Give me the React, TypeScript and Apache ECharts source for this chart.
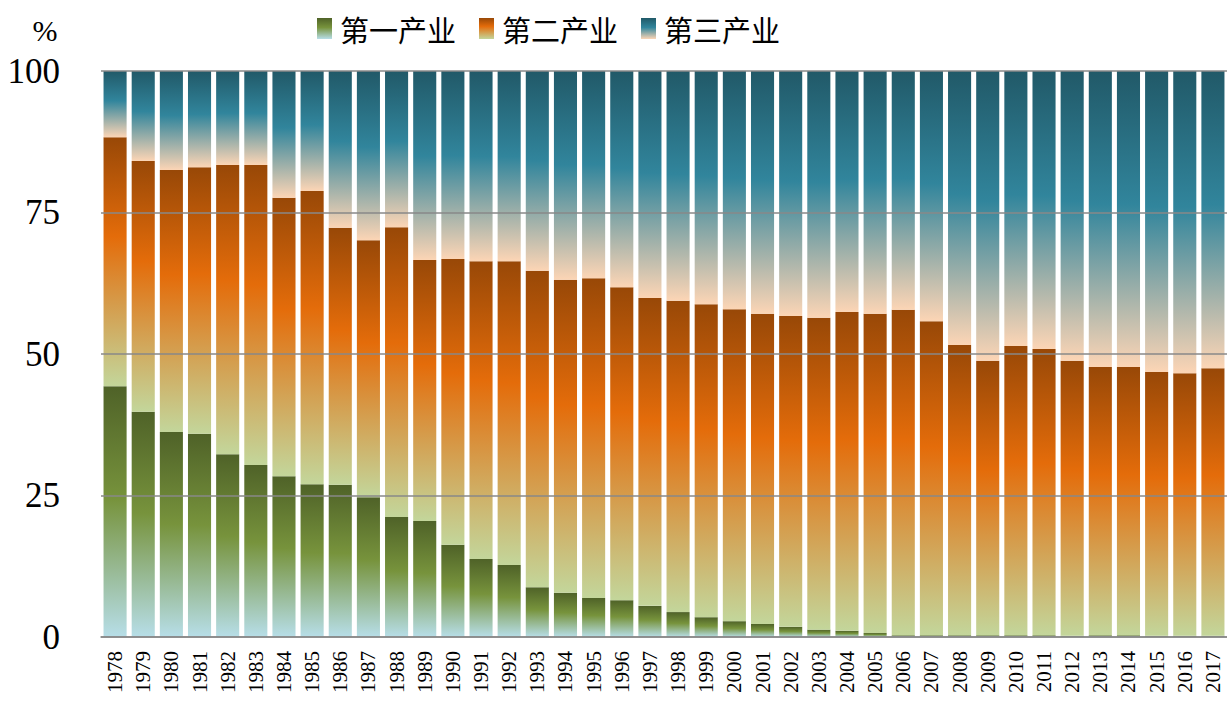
import React, { useEffect, useRef } from "react";
import * as echarts from "echarts";

const years = [
  "1978", "1979", "1980", "1981", "1982", "1983", "1984", "1985", "1986", "1987",
  "1988", "1989", "1990", "1991", "1992", "1993", "1994", "1995", "1996", "1997",
  "1998", "1999", "2000", "2001", "2002", "2003", "2004", "2005", "2006", "2007",
  "2008", "2009", "2010", "2011", "2012", "2013", "2014", "2015", "2016", "2017",
];

const primary = [
  44.3, 39.8, 36.2, 35.9, 32.3, 30.4, 28.4, 27.0, 26.9, 24.7,
  21.2, 20.5, 16.3, 13.8, 12.7, 8.8, 7.8, 6.9, 6.5, 5.5,
  4.4, 3.5, 2.8, 2.3, 1.8, 1.3, 1.1, 0.7, 0.3, 0.3,
  0.3, 0.3, 0.3, 0.3, 0.2, 0.3, 0.3, 0.2, 0.2, 0.2,
];

const secondary = [
  44.0, 44.3, 46.3, 47.1, 51.1, 53.0, 49.2, 51.8, 45.4, 45.4,
  51.2, 46.1, 50.5, 52.6, 53.7, 55.9, 55.3, 56.5, 55.3, 54.4,
  55.0, 55.3, 55.1, 54.8, 54.9, 55.1, 56.3, 56.4, 57.5, 55.5,
  51.3, 48.5, 51.1, 50.6, 48.6, 47.4, 47.4, 46.6, 46.4, 47.3,
];

const tertiary = [
  11.7, 15.9, 17.5, 17.0, 16.6, 16.6, 22.4, 21.2, 27.7, 29.9,
  27.6, 33.4, 33.2, 33.6, 33.6, 35.3, 36.9, 36.6, 38.2, 40.1,
  40.6, 41.2, 42.1, 42.9, 43.3, 43.6, 42.6, 42.9, 42.2, 44.2,
  48.4, 51.2, 48.6, 49.1, 51.2, 52.3, 52.3, 53.2, 53.4, 52.5,
];

const seriesNames = ["第一产业", "第二产业", "第三产业"];
const yTicks = [0, 25, 50, 75, 100];

const grad = (stops: [number, string][]) =>
  new echarts.graphic.LinearGradient(
    0, 0, 0, 1,
    stops.map(([offset, color]) => ({ offset, color }))
  );

export default function App() {
  const ref = useRef<HTMLDivElement>(null);

  useEffect(() => {
    if (!ref.current) return;
    const chart = echarts.init(ref.current, undefined, { renderer: "svg" });
    const serif = "'Liberation Serif', 'Times New Roman', serif";
    const colors = [
      grad([[0, "#4F6228"], [0.45, "#77933C"], [1, "#B7DEE8"]]),
      grad([[0, "#984807"], [0.4, "#E46C0A"], [1, "#C3D69B"]]),
      grad([[0, "#215968"], [0.45, "#31859C"], [1, "#FCD5B5"]]),
    ];
    const data = [primary, secondary, tertiary];
    chart.setOption({
      animation: false,
      backgroundColor: "#ffffff",
      legend: {
        left: 317,
        top: 14,
        padding: 0,
        itemWidth: 15,
        itemHeight: 21,
        itemGap: 23,
        icon: "rect",
        data: seriesNames,
        textStyle: {
          fontSize: 29,
          color: "#000",
          padding: [0, 0, 0, 3],
          fontFamily: "'Noto Sans CJK SC', sans-serif",
        },
      },
      graphic: [
        {
          type: "text",
          x: 45,
          y: 30,
          style: {
            text: "%",
            fontSize: 30,
            fontFamily: serif,
            fill: "#000",
            textAlign: "center",
            textVerticalAlign: "middle",
          },
        },
      ],
      grid: { left: 101, right: 0, top: 71, bottom: 84, containLabel: false },
      xAxis: {
        type: "category",
        data: years,
        z: 5,
        axisLine: { show: true, lineStyle: { color: "#888", width: 1.5 } },
        axisTick: { show: false },
        axisLabel: {
          interval: 0,
          rotate: 90,
          fontSize: 21,
          margin: 14,
          color: "#000",
          fontFamily: serif,
        },
      },
      yAxis: {
        type: "value",
        min: 0,
        max: 100,
        interval: 25,
        z: 5,
        axisLine: { show: false },
        axisTick: { show: false },
        splitLine: { show: true, lineStyle: { color: "#888", width: 1.5 } },
        axisLabel: {
          fontSize: 35,
          margin: 41,
          color: "#000",
          fontFamily: serif,
          formatter: (v: number) => (yTicks.includes(v) ? String(v) : ""),
        },
      },
      series: seriesNames.map((name, i) => ({
        name,
        type: "bar",
        stack: "total",
        barCategoryGap: "18%",
        data: data[i],
        itemStyle: { color: colors[i] },
      })),
    });
    return () => chart.dispose();
  }, []);

  return (
    <div
      ref={ref}
      style={{ position: "fixed", left: 0, top: 0, width: 1227, height: 721 }}
    />
  );
}
